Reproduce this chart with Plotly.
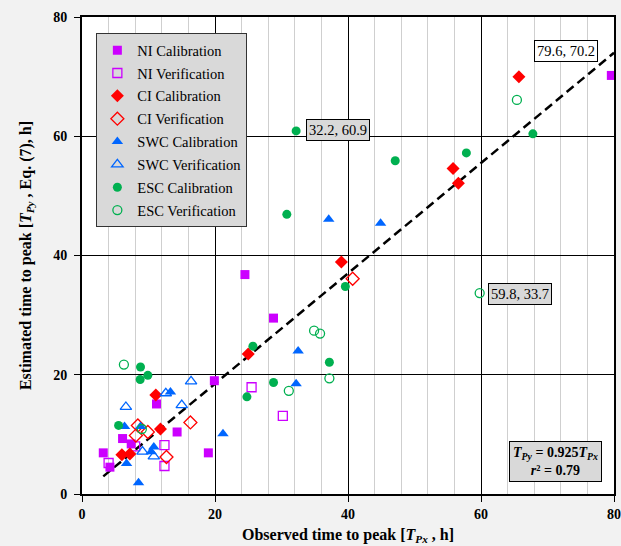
import plotly.graph_objects as go

# ---- data ----
ni_cal_x = [79.6, 24.5, 28.8, 19.9, 11.2, 14.3, 19.0, 3.2, 6.1, 7.4, 4.2]
ni_cal_y = [70.2, 36.8, 29.5, 19.0, 15.1, 10.4, 6.9, 6.9, 9.3, 8.4, 4.5]
ni_ver_x = [25.5, 30.2, 12.4, 12.4, 8.0, 4.0]
ni_ver_y = [17.9, 13.1, 8.2, 4.7, 8.0, 5.2]
ci_cal_x = [65.7, 55.8, 56.6, 39.0, 25.0, 11.1, 11.8, 6.0, 7.2]
ci_cal_y = [70.0, 54.6, 52.1, 38.9, 23.5, 16.6, 10.9, 6.6, 6.7]
ci_ver_x = [40.7, 16.3, 12.7, 8.4, 8.1, 9.9]
ci_ver_y = [36.1, 12.0, 6.2, 11.5, 9.8, 10.4]
swc_cal_x = [37.1, 44.9, 32.5, 32.2, 21.2, 13.3, 6.4, 8.8, 8.5, 6.7, 10.8, 10.4]
swc_cal_y = [46.1, 45.4, 24.0, 18.5, 10.1, 17.1, 11.3, 11.3, 1.9, 5.1, 7.9, 7.1]
swc_ver_x = [16.4, 15.0, 6.6, 12.6, 9.1, 10.8]
swc_ver_y = [18.9, 14.9, 14.6, 16.9, 7.1, 6.3]
esc_cal_x = [32.2, 47.1, 30.8, 57.8, 67.8, 39.6, 37.2, 25.7, 28.8, 24.8, 8.8, 9.9, 8.75, 5.5]
esc_cal_y = [60.9, 55.9, 46.9, 57.2, 60.4, 34.8, 22.1, 24.8, 18.7, 16.3, 21.3, 19.9, 19.2, 11.5]
esc_ver_x = [65.4, 59.8, 34.9, 35.8, 37.2, 31.1, 6.3, 9.0]
esc_ver_y = [66.1, 33.7, 27.4, 26.9, 19.4, 17.3, 21.7, 10.9]

slope = 0.925
r2 = 0.79
fit_x = [3.2, 80.0]

x_ticks = [0, 20, 40, 60, 80]
y_ticks = [0, 20, 40, 60, 80]

MAG = "#cc00ff"
RED = "#ff0000"
BLUE = "#0066ff"
GREEN = "#00b050"
FONT = "Liberation Serif"

fig = go.Figure()

series = [
    ("NI Calibration", ni_cal_x, ni_cal_y, "square", MAG, 9),
    ("NI Verification", ni_ver_x, ni_ver_y, "square-open", MAG, 9),
    ("CI Calibration", ci_cal_x, ci_cal_y, "diamond", RED, 10),
    ("CI Verification", ci_ver_x, ci_ver_y, "diamond-open", RED, 10),
    ("SWC Calibration", swc_cal_x, swc_cal_y, "triangle-up", BLUE, 10),
    ("SWC Verification", swc_ver_x, swc_ver_y, "triangle-up-open", BLUE, 10),
    ("ESC Calibration", esc_cal_x, esc_cal_y, "circle", GREEN, 9),
    ("ESC Verification", esc_ver_x, esc_ver_y, "circle-open", GREEN, 9),
]

fig.add_trace(go.Scatter(
    x=fit_x, y=[slope * v for v in fit_x], mode="lines",
    line=dict(color="black", width=2.5, dash="9px,5px"),
    showlegend=False, hoverinfo="skip"))

for name, xs, ys, sym, col, sz in series:
    fig.add_trace(go.Scatter(
        x=xs, y=ys, mode="markers", name=name, legendgroup=name,
        marker=dict(symbol=sym, color=col, size=sz,
                    line=dict(color=col, width=1.3 if "open" in sym else 0))))

ann_font = dict(family=FONT, size=14.5, color="black")
fig.add_annotation(x=ni_cal_x[0], y=ni_cal_y[0], xref="x", yref="y",
                   text=f"{ni_cal_x[0]}, {ni_cal_y[0]}", showarrow=False,
                   xshift=-45, yshift=24, bgcolor="white", bordercolor="black",
                   borderwidth=1, borderpad=2, font=ann_font)
fig.add_annotation(x=esc_cal_x[0], y=esc_cal_y[0], xref="x", yref="y",
                   text=f"{esc_cal_x[0]}, {esc_cal_y[0]}", showarrow=False,
                   xshift=42, yshift=1, bgcolor="#d9d9d9", bordercolor="black",
                   borderwidth=1, borderpad=2, font=ann_font)
fig.add_annotation(x=esc_ver_x[1], y=esc_ver_y[1], xref="x", yref="y",
                   text=f"{esc_ver_x[1]}, {esc_ver_y[1]}", showarrow=False,
                   xshift=40, yshift=-1, bgcolor="#d9d9d9", bordercolor="black",
                   borderwidth=1, borderpad=2, font=ann_font)
fig.add_annotation(x=0.977, y=0.025, xref="paper", yref="paper",
                   xanchor="right", yanchor="bottom", showarrow=False,
                   text=(f"<b><i>T</i><sub><i>Py</i></sub> = {slope}<i>T</i><sub><i>Px</i></sub></b><br>"
                         f"<b><i>r</i>² = {r2}</b>"),
                   bgcolor="#d9d9d9", bordercolor="black", borderwidth=1, borderpad=3,
                   font=dict(family=FONT, size=14, color="black"))

axis_common = dict(
    range=[0, 80], showline=True, linecolor="black", linewidth=2, mirror=True,
    ticks="outside", ticklen=6, tickcolor="black", tickwidth=1,
    gridcolor="black", gridwidth=1, zeroline=False, automargin=False,
    tickfont=dict(family=FONT, size=14, color="black", weight="bold"),
)
fig.update_xaxes(**axis_common, tickvals=x_ticks,
                 minor=dict(dtick=4, showgrid=True, gridcolor="#cfcfcf", gridwidth=1),
                 title=dict(text="<b>Observed time to peak [<i>T</i><sub><i>Px</i></sub> , h]</b>",
                            font=dict(family=FONT, size=16, color="black"), standoff=8))
fig.update_yaxes(**axis_common, tickvals=y_ticks, ticklabelstandoff=4,
                 title=dict(text="<b>Estimated time to peak [<i>T</i><sub><i>Py</i></sub> , Eq. (7), h]</b>",
                            font=dict(family=FONT, size=16, color="black"), standoff=18))

fig.update_layout(
    width=621, height=546,
    margin=dict(l=82, r=7, t=17, b=52, autoexpand=False),
    paper_bgcolor="#f2f2f2", plot_bgcolor="white",
    font=dict(family=FONT, color="black"),
    legend=dict(x=0.027, y=0.966, xanchor="left", yanchor="top",
                bgcolor="#d9d9d9", bordercolor="#333333", borderwidth=1,
                font=dict(family=FONT, size=14.5, color="black"),
                tracegroupgap=1, itemwidth=30),
)

fig.write_html("out.html", config={"displayModeBar": False},
               post_script="document.body.style.margin='0';document.body.style.background='#f2f2f2';")
